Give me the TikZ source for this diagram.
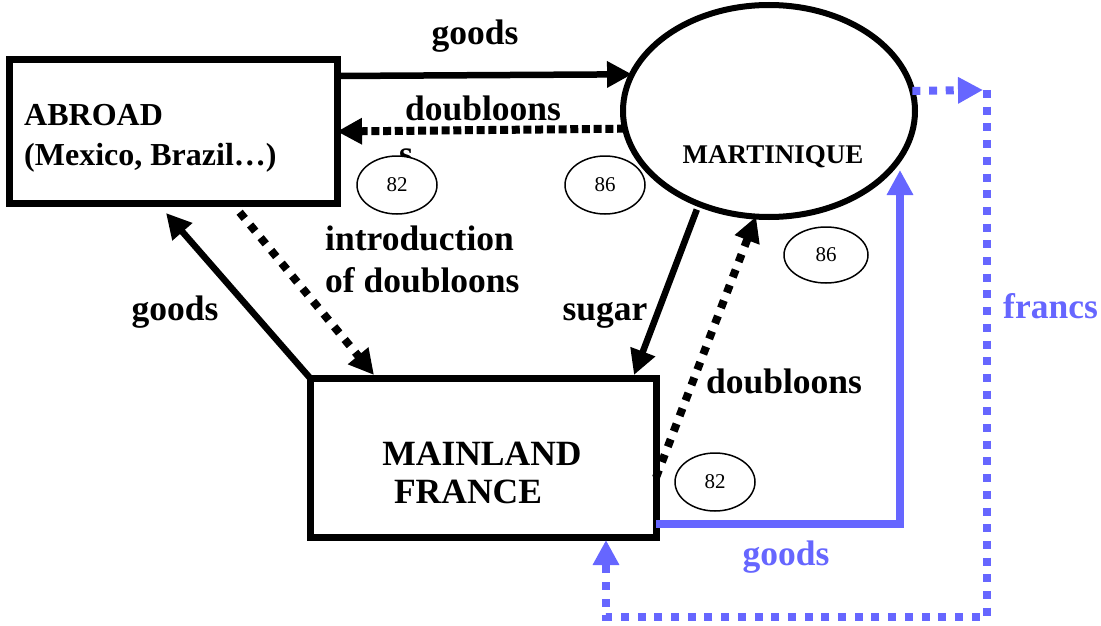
\documentclass[tikz,border=0pt]{standalone}
\usepackage{fontspec}
\setmainfont{Liberation Serif}
\usetikzlibrary{arrows.meta,shapes.geometric}
\definecolor{fblue}{RGB}{102,102,255}
\begin{document}
\begin{tikzpicture}[x=1pt,y=-1pt,
  box/.style={draw,line width=7pt,rectangle,inner sep=0pt,outer sep=0pt},
  isle/.style={draw,line width=6pt,ellipse,inner sep=0pt,outer sep=0pt,minimum width=292pt,minimum height=212pt},
  tag/.style={draw,line width=1.5pt,ellipse,fill=white,inner sep=0pt,minimum width=80pt,minimum height=58pt,font=\fontsize{21}{24}\selectfont},
  lbl/.style={font=\fontsize{35.5}{42}\selectfont\bfseries,inner sep=0pt},
  tip/.style={-{Triangle[length=25pt,width=25pt]}},
  flow/.style={line width=6.5pt,tip},
  dotflow/.style={line width=8pt,dash pattern=on 8pt off 3.7pt,tip},
  ddiag/.style={line width=8pt,dash pattern=on 8pt off 8.5pt,tip},
  bflow/.style={line width=7.5pt,fblue,tip},
  bdot/.style={line width=8pt,fblue,dash pattern=on 8pt off 8.7pt}
]
\useasboundingbox (0,0) rectangle (1101,626);

% main nodes
\node[box,minimum width=328pt,minimum height=143pt] (abroad) at (173,131.5) {};
\node[box,minimum width=346pt,minimum height=159pt] (mf) at (483,457.5) {};
\node[isle] (mart) at (769,111) {};

% texts in nodes
\node[anchor=base west,inner sep=0pt,font=\fontsize{32}{38}\selectfont\bfseries] (tab1) at (24,125) {ABROAD};
\node[anchor=base west,inner sep=0pt,font=\fontsize{32}{38}\selectfont\bfseries] (tab2) at (24,165) {(Mexico, Brazil…)};
\node[lbl,anchor=base] (tmf1) at (482,465) {MAINLAND};
\node[lbl,anchor=base] (tmf2) at (468,503) {FRANCE};
\node[anchor=base,inner sep=0pt,font=\fontsize{27}{32}\selectfont\bfseries] (tmart) at (773,163) {MARTINIQUE};

% connectors
\draw[flow] ([yshift=-16pt]abroad.north east) -- (mart.165.75);
\draw[dotflow] (mart.187.94) -- (abroad.east);
\draw[ddiag,shorten <=12pt] ([xshift=59pt]abroad.south) -- ([xshift=-109pt,yshift=3pt]mf.north);
\draw[flow] (mf.north west) -- ([xshift=-7pt,yshift=-10pt]abroad.south);
\draw[flow,shorten <=6pt] (mart.233.5) -- ([xshift=151pt,yshift=3pt]mf.north);
\draw[ddiag] ([yshift=-20pt]mf.east) -- (mart.263.5);
\draw[bflow] ([yshift=-66.5pt]mf.east) -| ([xshift=131pt,yshift=-59pt]mart.center);
\coordinate (c1) at (987,90);
\coordinate (c2) at (987,617);
\draw[bdot,tip] (mart.8.35) -- ([xshift=-4pt]c1);
\draw[bdot,tip] (c1) -- (c2) -| ([xshift=123pt,yshift=-3pt]mf.south);

% labels
\node[lbl,anchor=base] (lgoods1) at (475,45) {goods};
\node[lbl,anchor=base] (ldoub1) at (483,121) {doubloons};
\node[lbl,anchor=base] (ls) at (406,165) {s};
\node[lbl,anchor=base west] (lintro1) at (325,250) {introduction};
\node[lbl,anchor=base west] (lintro2) at (325,292) {of doubloons};
\node[lbl,anchor=base] (lgoods2) at (175,320) {goods};
\node[lbl,anchor=base] (lsugar) at (605,320) {sugar};
\node[lbl,anchor=base] (ldoub2) at (784,393) {doubloons};
\node[lbl,anchor=base west,text=fblue] (lfrancs) at (1003,318) {francs};
\node[lbl,anchor=base,text=fblue] (lgoods3) at (786,565) {goods};

% year tags
\node[tag] (y1) at (397,185) {82};
\node[tag] (y2) at (605,185) {86};
\node[tag,minimum width=84pt,minimum height=56pt] (y3) at (826,255) {86};
\node[tag] (y4) at (715,482) {82};
\end{tikzpicture}
\end{document}
